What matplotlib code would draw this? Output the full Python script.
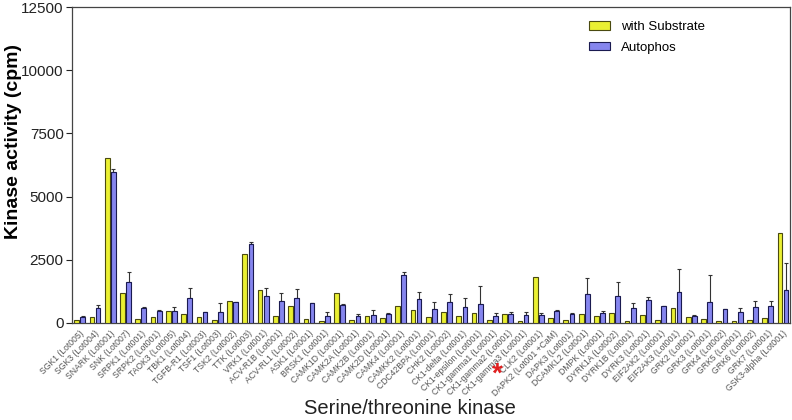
import matplotlib
matplotlib.use("Agg")
import matplotlib.pyplot as plt
import numpy as np

plt.rcParams['font.family'] = ['Liberation Sans', 'DejaVu Sans']

kinases = [
    "SGK1 (Lot005)", "SGK3 (Lot004)", "SNARK (Lot001)", "SNK (Lot007)", "SRPK1 (Lot001)",
    "SRPK2 (Lot001)", "TAOK3 (Lot005)", "TBK1 (Lot004)", "TGFB-R1 (Lot003)", "TSF1 (Lot003)",
    "TSK2 (Lot002)", "TTK (Lot003)", "VRK1 (Lot001)", "ACV-R1B (Lot001)", "ACV-RL1 (Lot002)",
    "ASK1 (Lot001)", "BRSK1 (Lot001)", "CAMK1D (Lot001)", "CAMK2A (Lot001)", "CAMK2B (Lot001)",
    "CAMK2D (Lot001)", "CAMK4 (Lot001)", "CAMKK2 (Lot001)", "CDC42BPA (Lot001)", "CHK2 (Lot002)",
    "CK1-delta (Lot001)", "CK1-epsilon (Lot001)", "CK1-gamma1 (Lot001)", "CK1-gamma2 (Lot001)",
    "CK1-gamma3 (Lot001)", "CLK2 (Lot001)", "DAPK2 (Lot001 +CaM)", "DAPK3 (Lot001)",
    "DCAMKL2 (Lot001)", "DMPK (Lot001)", "DYRK1A (Lot002)", "DYRK1B (Lot001)", "DYRK3 (Lot001)",
    "EIF2AK2 (Lot001)", "EIF2AK3 (Lot001)", "GRK2 (Lot001)", "GRK3 (Lot001)", "GRK4 (Lot002)",
    "GRK5 (Lot001)", "GRK6 (Lot002)", "GRK7 (Lot001)", "GSK3-alpha (Lot001)",
]

with_substrate = [
    120, 220, 6545, 1185, 145, 225, 474, 342, 225, 118,
    869, 2712, 1290, 263, 658, 158, 66, 1198, 105, 290,
    184, 671, 500, 237, 434, 263, 395, 105, 342, 66,
    1830, 184, 105, 342, 290, 382, 79, 303, 132, 605,
    237, 145, 66, 66, 105, 198, 3542,
]

autophos = [
    250, 605, 5977, 1607, 580, 487, 487, 987, 421, 450,
    816, 3120, 1080, 869, 974, 777, 263, 724, 290, 330,
    355, 1883, 935, 553, 816, 632, 737, 263, 342, 330,
    316, 487, 355, 1145, 382, 1066, 580, 908, 671, 1224,
    290, 816, 540, 420, 632, 658, 1290,
]

autophos_err = [
    20, 110, 100, 430, 40, 20, 130, 410, 30, 330,
    10, 95, 315, 300, 370, 25, 190, 10, 50, 200,
    30, 130, 280, 280, 320, 360, 725, 120, 80, 90,
    65, 10, 40, 620, 105, 570, 220, 105, 20, 900,
    10, 1090, 10, 160, 250, 210, 1070,
]

fig = plt.figure(figsize=(7.92, 4.2), dpi=100)
ax = fig.add_axes([0.0909, 0.231, 0.9066, 0.752])

x = np.arange(len(kinases))
w = 0.31
ax.bar(x - 0.2, with_substrate, width=w, color='#eaf032', edgecolor='#4a4a10',
       linewidth=0.8, label='with Substrate', zorder=3)
ax.bar(x + 0.2, autophos, width=w, color='#8585ee', edgecolor='#1a1a50',
       linewidth=0.8, label='Autophos', zorder=3)
ax.errorbar(x + 0.2, autophos, yerr=[np.zeros(len(x)), autophos_err], fmt='none',
            ecolor='#333333', elinewidth=0.8, capsize=1.5, capthick=0.8, zorder=2)

ax.set_xlim(-0.5, 46.46)
ax.set_ylim(0, 12500)
ax.set_yticks([0, 2500, 5000, 7500, 10000, 12500])
ax.tick_params(axis='y', labelsize=11, colors='#222222', length=4, width=0.8, pad=2)
ax.set_xticks(x)
ax.set_xticklabels(kinases, rotation=45, ha='right', rotation_mode='anchor',
                   fontsize=6.2, color='#555555')
ax.tick_params(axis='x', length=0, pad=4)
for s in ax.spines.values():
    s.set_color('#444444')
    s.set_linewidth(0.9)

ax.set_ylabel('Kinase activity (cpm)', fontsize=14, fontweight='bold')
ax.yaxis.set_label_coords(-0.0695, 0.576)
fig.text(0.518, 0.028, 'Serine/threonine kinase', ha='center', va='center', fontsize=14.5,
         color='#222222')
fig.text(0.6275, 0.107, '*', color='#e02020', fontsize=20, ha='center', va='center',
         fontweight='bold')

leg = ax.legend(loc='upper left', bbox_to_anchor=(0.703, 0.993), frameon=False,
                fontsize=9.5, handlelength=1.6, handleheight=0.6, handletextpad=0.85,
                labelspacing=0.65)

fig.savefig('out.png', dpi=100)
